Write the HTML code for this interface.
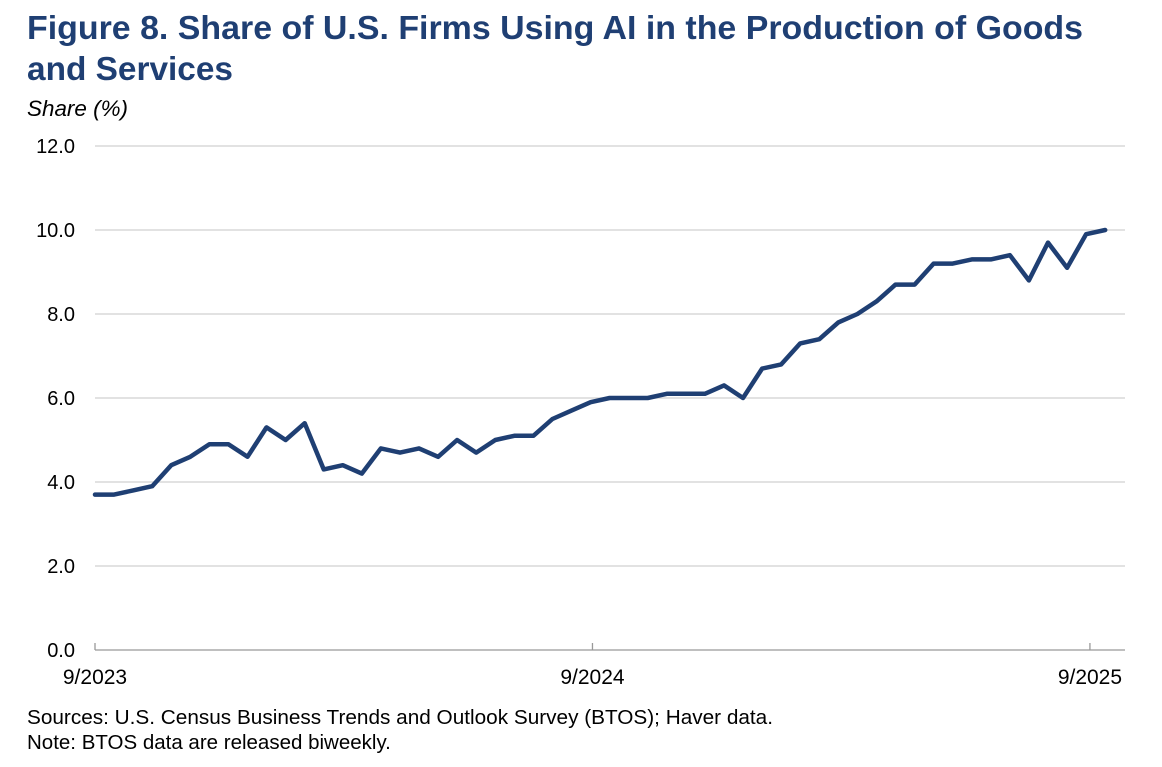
<!DOCTYPE html>
<html><head><meta charset="utf-8"><style>
body{margin:0;background:#fff;width:1162px;height:762px;overflow:hidden;font-family:"Liberation Sans",Arial,sans-serif}
</style></head><body>
<svg width="1162" height="762" xmlns="http://www.w3.org/2000/svg" font-family="Liberation Sans, Arial, sans-serif">
<text x="27" y="39" font-size="33.5" font-weight="bold" fill="#1f3f73" textLength="1056" lengthAdjust="spacingAndGlyphs">Figure 8. Share of U.S. Firms Using AI in the Production of Goods</text>
<text x="27" y="80" font-size="33.5" font-weight="bold" fill="#1f3f73" textLength="206" lengthAdjust="spacingAndGlyphs">and Services</text>
<text x="27" y="116" font-size="22" font-style="italic" fill="#000" textLength="101" lengthAdjust="spacingAndGlyphs">Share (%)</text>
<g id="grid"></g><g id="yt"></g><g id="xt"></g>
<path id="line" fill="none" stroke="#1f3f73" stroke-width="4.5" stroke-linejoin="round" stroke-linecap="round"/>
<text x="27" y="724" font-size="20.5" fill="#000" textLength="746" lengthAdjust="spacingAndGlyphs">Sources: U.S. Census Business Trends and Outlook Survey (BTOS); Haver data.</text>
<text x="27" y="749" font-size="20.5" fill="#000">Note: BTOS data are released biweekly.</text>
</svg>
<script>
const values=[3.7,3.7,3.8,3.9,4.4,4.6,4.9,4.9,4.6,5.3,5.0,5.4,4.3,4.4,4.2,4.8,4.7,4.8,4.6,5.0,4.7,5.0,5.1,5.1,5.5,5.7,5.9,6.0,6.0,6.0,6.1,6.1,6.1,6.3,6.0,6.7,6.8,7.3,7.4,7.8,8.0,8.3,8.7,8.7,9.2,9.2,9.3,9.3,9.4,8.8,9.7,9.1,9.9,10.0];
const yTicks=[0,2,4,6,8,10,12];
const xTickLabels=["9/2023","9/2024","9/2025"];
const xTickIndex=[0,26.1,52.2];
const NS="http://www.w3.org/2000/svg";
const x0=95,x1=1125,step=19.06;
const X=i=>x0+i*step;
const Y=v=>650-v*42;
const grid=document.getElementById('grid'),yt=document.getElementById('yt'),xt=document.getElementById('xt');
yTicks.forEach(v=>{
 const l=document.createElementNS(NS,'line');
 l.setAttribute('x1',x0);l.setAttribute('x2',x1);l.setAttribute('y1',Y(v));l.setAttribute('y2',Y(v));
 l.setAttribute('stroke',v===0?'#999':'#d9d9d9');l.setAttribute('stroke-width',v===0?1.3:1.5);
 
 
 grid.appendChild(l);
 const t=document.createElementNS(NS,'text');
 t.setAttribute('x',75);t.setAttribute('y',Y(v)+7);t.setAttribute('text-anchor','end');t.setAttribute('font-size','20');
 t.textContent=v.toFixed(1);
 
 
 yt.appendChild(t);
});
xTickLabels.forEach((lab,k)=>{
 const x=X(xTickIndex[k]);
 const l=document.createElementNS(NS,'line');
 l.setAttribute('x1',x);l.setAttribute('x2',x);l.setAttribute('y1',643);l.setAttribute('y2',650);
 l.setAttribute('stroke','#999');l.setAttribute('stroke-width',1.3);
 
 
 xt.appendChild(l);
 const t=document.createElementNS(NS,'text');
 t.setAttribute('x',x);t.setAttribute('y',684);t.setAttribute('text-anchor','middle');t.setAttribute('font-size','21');
 t.textContent=lab;
 
 
 xt.appendChild(t);
});
document.getElementById('line').setAttribute('d',values.map((v,i)=>(i?'L':'M')+X(i).toFixed(1)+' '+Y(v).toFixed(1)).join(' '));
</script>
</body></html>
